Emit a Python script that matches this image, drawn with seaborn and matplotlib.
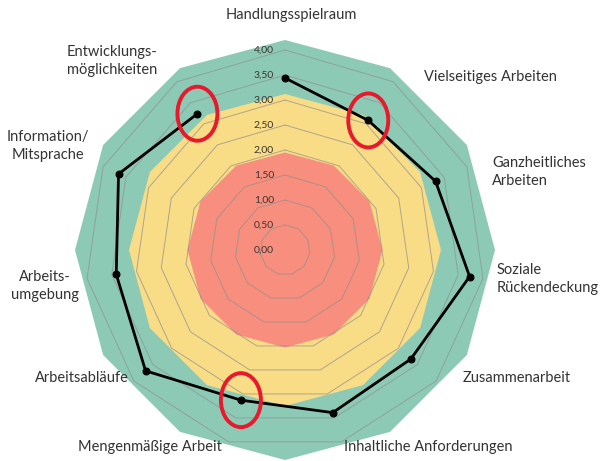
import numpy as np
import pandas as pd
import matplotlib
matplotlib.use("Agg")
import matplotlib.pyplot as plt
import seaborn as sns
from matplotlib.patches import Ellipse
from matplotlib.transforms import ScaledTranslation

# ---------------- data ----------------
categories = ["Handlungsspielraum", "Vielseitiges Arbeiten", "Ganzheitliches\nArbeiten",
              "Soziale\nRückendeckung", "Zusammenarbeit", "Inhaltliche Anforderungen",
              "Mengenmäßige Arbeit", "Arbeitsabläufe", "Arbeits-\numgebung",
              "Information/\nMitsprache", "Entwicklungs-\nmöglichkeiten"]
values = [3.44, 3.08, 3.31, 3.73, 3.33, 3.39, 3.13, 3.69, 3.41, 3.66, 3.24]
highlighted = ["Vielseitiges Arbeiten", "Mengenmäßige Arbeit", "Entwicklungs-\nmöglichkeiten"]
zone_limits = [4.2, 3.12, 1.95]          # green, yellow, red outer bounds
zone_colors = ["#8ccab6", "#f8dc86", "#f88e7e"]
tick_values = [0.0, 0.5, 1.0, 1.5, 2.0, 2.5, 3.0, 3.5, 4.0]
tick_labels = ["0,00", "0,50", "1,00", "1,50", "2,00", "2,50", "3,00", "3,50", "4,00"]

# label layout (pixel anchors, x from left, y from top) and alignment
label_layout = [
    (291, 15, "center"), (490, 77, "center"), (492, 172, "left"),
    (497, 279, "left"), (517, 378, "center"), (428, 447, "center"),
    (150, 447, "center"), (82, 378, "center"), (45, 286, "center"),
    (48, 146, "center"), (112, 61, "center"),
]

W, H = 604, 461
DPI = 100
sns.set_theme(style="white")
plt.rcParams["font.family"] = ["Lato", "DejaVu Sans"]

fig = plt.figure(figsize=(W / DPI, H / DPI), dpi=DPI)
cx, cy = 285, 250
px_per_unit = 50.0
rmax = 4.45
R = rmax * px_per_unit
ax = fig.add_axes([(cx - R) / W, (H - cy - R) / H, 2 * R / W, 2 * R / H], projection="polar")
ax.set_theta_zero_location("N")
ax.set_theta_direction(-1)
ax.set_ylim(0, rmax)
ax.axis("off")

n = len(categories)
theta = np.arange(n) * 2 * np.pi / n

# background zones (12-sided polygons)
zt = np.arange(12 + 1) * 2 * np.pi / 12
for lim, col in zip(zone_limits, zone_colors):
    ax.fill(zt, np.full_like(zt, lim), color=col, lw=0, zorder=1)

# polygon gridlines
tc = np.append(theta, theta[0])
for tv in tick_values[1:]:
    ax.plot(tc, np.full_like(tc, tv), color="#8f8f8f", lw=0.7, alpha=0.7, zorder=2)

# tick labels
for tv, tl in zip(tick_values, tick_labels):
    fig.text((cx - 21) / W, (H - (cy - tv * px_per_unit)) / H, tl, ha="center", va="center",
             fontsize=7.5, color="#3a3530")

# data line
df = pd.DataFrame({"theta": np.append(theta, theta[0]), "value": values + [values[0]],
                   "order": np.arange(n + 1)})
sns.lineplot(data=df, x="theta", y="value", sort=False, ax=ax, color="black", lw=2.0,
             marker="o", markersize=5, markeredgecolor="black", zorder=5)
ax.set_xlabel("")
ax.set_ylabel("")
ax.set_ylim(0, rmax)
ax.axis("off")

# red highlight ellipses
for cat in highlighted:
    i = categories.index(cat)
    tr = fig.dpi_scale_trans + ScaledTranslation(theta[i], values[i], ax.transData)
    e = Ellipse((0, 0), 0.40, 0.54, transform=tr, fill=False, edgecolor="#e8192c", lw=2.8,
                zorder=6, clip_on=False)
    ax.add_artist(e)

# category labels
for cat, (lx, ly, ha) in zip(categories, label_layout):
    fig.text(lx / W, (H - ly) / H, cat, ha=ha, va="center", fontsize=10.5, color="#333333",
             linespacing=1.45, multialignment=ha if ha != "center" else "center")

fig.savefig("out.png", dpi=DPI)
